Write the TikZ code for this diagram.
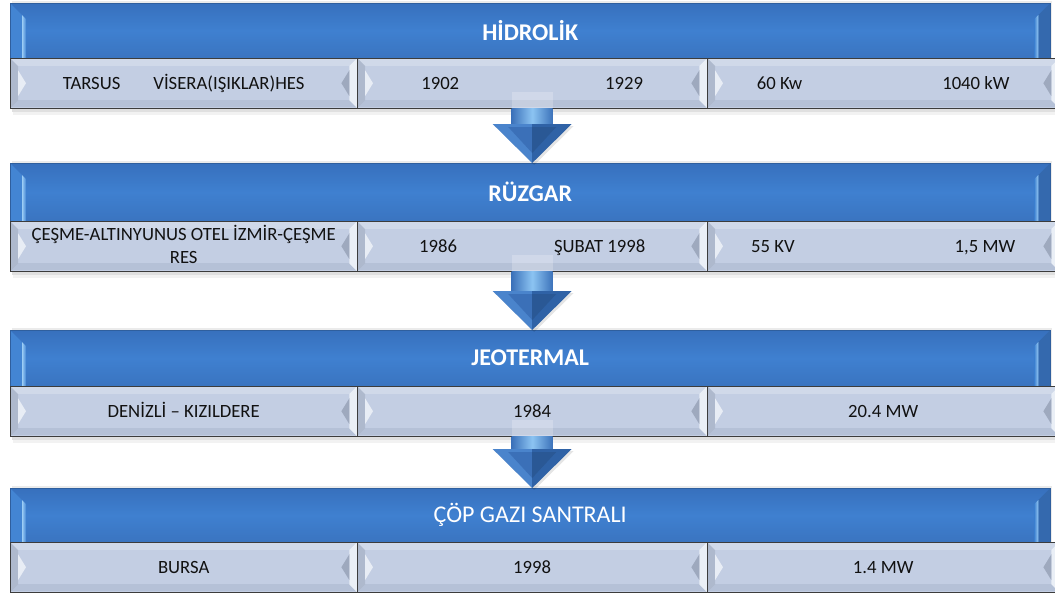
\documentclass[tikz,border=0pt]{standalone}
\usepackage{fontspec}
\setmainfont{Carlito}
\usetikzlibrary{calc}
\pgfdeclarelayer{background}
\pgfsetlayers{background,main}
\definecolor{hdrmid}{HTML}{3F80D0}
\definecolor{hdrtop}{HTML}{3770BD}
\definecolor{hdrbot}{HTML}{3A74C0}
\definecolor{hdredge}{HTML}{2F5F9E}
\definecolor{hdrhi}{HTML}{9CCDF5}
\definecolor{hdrside}{HTML}{4385D3}
\definecolor{hdrdark}{HTML}{3469AE}
\definecolor{cellfill}{HTML}{C3CEE3}
\definecolor{cellhi}{HTML}{D0D9E9}
\definecolor{celllo}{HTML}{B5C1D7}
\definecolor{cellleft}{HTML}{AEB9CD}
\definecolor{celltri}{HTML}{E8EDF5}
\definecolor{cellright}{HTML}{EAEFF6}
\definecolor{celldark}{HTML}{9EA9BE}
\definecolor{celledge}{HTML}{3C3C3C}
\definecolor{arrmid}{HTML}{3C72BA}
\definecolor{arrlight}{HTML}{8CC4F2}
\definecolor{arrleft}{HTML}{4A84CC}
\definecolor{arrright}{HTML}{2F62A6}
\definecolor{arrinner}{HTML}{3B70B8}
\definecolor{txt}{HTML}{111111}
\newcommand\cstrut{\rule[-5pt]{0pt}{22pt}}
\tikzset{
  hdr/.style={anchor=north west, inner sep=0pt, minimum width=1040, text=white,
    font=\fontsize{24}{28}\selectfont},
  cellbox/.style={anchor=north west, inner sep=0pt, align=center, text=txt,
    minimum height=50, font=\fontsize{18.7}{19.5}\selectfont},
}
\newcommand\hdrbg[1]{%
  \begin{pgfonlayer}{background}
  \fill[black,opacity=0.08] ($(#1.north west)+(2,-2)$) rectangle ($(#1.south east)+(2,0)$);
  \shade[top color=hdrtop, bottom color=hdrbot, middle color=hdrmid] (#1.north west) rectangle (#1.south east);
  \fill[hdrside] (#1.north west) -- ($(#1.north west)+(12,12)$) -- ($(#1.south west)+(12,0)$) -- (#1.south west) -- cycle;
  \shade[left color=hdrhi, right color=hdrside] ($(#1.north west)+(12,12)$) -- ($(#1.north west)+(16,16)$) -- ($(#1.south west)+(16,0)$) -- ($(#1.south west)+(12,0)$) -- cycle;
  \fill[hdrdark] (#1.north east) -- ($(#1.north east)+(-12,12)$) -- ($(#1.south east)+(-12,0)$) -- (#1.south east) -- cycle;
  \shade[left color=hdrside, right color=hdrhi] ($(#1.north east)+(-16,16)$) -- ($(#1.north east)+(-12,12)$) -- ($(#1.south east)+(-12,0)$) -- ($(#1.south east)+(-16,0)$) -- cycle;
  \draw[hdredge, line width=0.5pt] (#1.north west) rectangle (#1.south east);
  \end{pgfonlayer}}
\newcommand\cellbg[1]{%
  \begin{pgfonlayer}{background}
  \fill[black,opacity=0.12] ($(#1.south west)+(2,0)$) rectangle ($(#1.south east)+(2,4)$);
  \fill[black,opacity=0.05] ($(#1.south west)+(3,4)$) rectangle ($(#1.south east)+(3,7)$);
  \fill[cellfill] (#1.north west) rectangle (#1.south east);
  \fill[cellhi] ($(#1.north west)+(0,1)$) rectangle ($(#1.north east)+(0,8)$);
  \fill[celllo] ($(#1.south west)+(0,-8)$) rectangle ($(#1.south east)+(0,-1)$);
  \fill[cellleft] (#1.north west) -- ($(#1.north west)+(8,8)$) -- ($(#1.south west)+(8,-8)$) -- (#1.south west) -- cycle;
  \fill[celltri] ($(#1.west)+(8,-13)$) -- ($(#1.west)+(16,0)$) -- ($(#1.west)+(8,13)$) -- cycle;
  \fill[cellright] (#1.north east) -- ($(#1.north east)+(-8,8)$) -- ($(#1.south east)+(-8,-8)$) -- (#1.south east) -- cycle;
  \fill[celldark] ($(#1.east)+(-8,-13)$) -- ($(#1.east)+(-16,0)$) -- ($(#1.east)+(-8,13)$) -- cycle;
  \draw[celledge, line width=0.9pt] (#1.north west) rectangle (#1.south east);
  \end{pgfonlayer}}
\newcommand\mkrow[5]{%
  \node[cellbox, minimum width=347] (#1a) at (10,#2) {\cstrut #3\cstrut};
  \node[cellbox, minimum width=350] (#1b) at (357,#2) {\cstrut #4\cstrut};
  \node[cellbox, minimum width=352] (#1c) at (707,#2) {\cstrut #5\cstrut};
  \cellbg{#1a}\cellbg{#1b}\cellbg{#1c}}
\newcommand\flowarrow[2]{%
  \fill[white, opacity=0.22] ($(#1)+(-20.5,-16)$) rectangle ($(#1)+(20.5,0)$);
  \shade[left color=arrmid, right color=arrmid, middle color=arrlight] ($(#1)+(-20.5,0)$) rectangle ($(#2)+(20.5,-38)$);
  \fill[black, opacity=0.10] ($(#2)+(-37.5,-37)$) -- ($(#2)+(41.5,-37)$) -- ($(#2)+(2,2)$) -- cycle;
  \fill[arrleft] ($(#2)+(-39.5,-39)$) -- ($(#2)+(0,-39)$) -- (#2) -- cycle;
  \fill[arrright] ($(#2)+(0,-39)$) -- ($(#2)+(39.5,-39)$) -- (#2) -- cycle;
  \fill[arrinner] ($(#2)+(-24,-36)$) -- ($(#2)+(0,-36)$) -- ($(#2)+(0,-10)$) -- cycle;
  \fill[arrright!90!black] ($(#2)+(0,-36)$) -- ($(#2)+(24,-36)$) -- ($(#2)+(0,-10)$) -- cycle;
}
\begin{document}
\begin{tikzpicture}[x=1pt,y=-1pt]
\useasboundingbox (0,0) rectangle (1055,592);
\begin{pgfonlayer}{background}
\fill[white] (0,0) rectangle (1055,592);
\end{pgfonlayer}
% block 1
\node[hdr, minimum height=55] (h1) at (10,3) {\textbf{HİDROLİK}};
\hdrbg{h1}
\mkrow{r1}{58}{TARSUS\hspace{33pt}VİSERA(IŞIKLAR)HES}{1902\hspace{146pt}1929}{60 Kw\hspace{140pt}1040 kW}
% block 2
\node[hdr, minimum height=58] (h2) at (10,163) {\textbf{RÜZGAR}};
\hdrbg{h2}
\mkrow{r2}{221}{ÇEŞME-ALTINYUNUS OTEL İZMİR-ÇEŞME\\RES}{1986\hspace{97pt}ŞUBAT 1998}{55 KV\hspace{160pt}1,5 MW}
% block 3
\node[hdr, minimum height=56] (h3) at (10,330) {\textbf{JEOTERMAL}};
\hdrbg{h3}
\mkrow{r3}{386}{DENİZLİ – KIZILDERE}{1984}{20.4 MW}
% block 4
\node[hdr, minimum height=54] (h4) at (10,488) {ÇÖP GAZI SANTRALI};
\hdrbg{h4}
\mkrow{r4}{542}{BURSA}{1998}{1.4 MW}
% arrows
\coordinate (a1s) at (r1b.south);
\coordinate (a1t) at (h2.north -| r1b.south);
\coordinate (a2s) at (r2b.south);
\coordinate (a2t) at (h3.north -| r2b.south);
\coordinate (a3s) at (r3b.south);
\coordinate (a3t) at (h4.north -| r3b.south);
\flowarrow{a1s}{a1t}
\flowarrow{a2s}{a2t}
\flowarrow{a3s}{a3t}
\end{tikzpicture}
\end{document}
